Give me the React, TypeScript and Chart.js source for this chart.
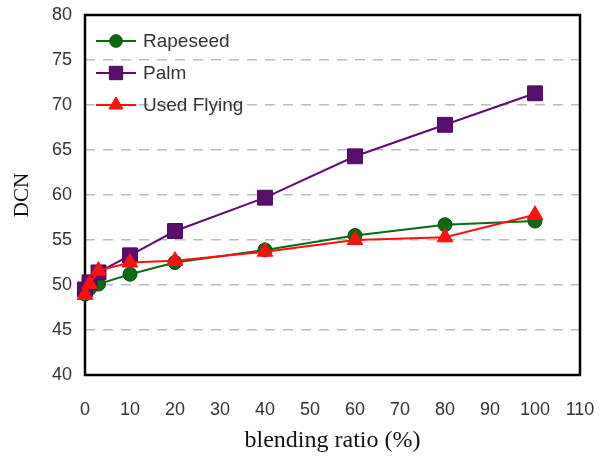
import React, { useEffect, useRef } from "react";
import { Chart, registerables } from "chart.js";

Chart.register(...registerables);

const blendingRatio = [0, 1, 3, 10, 20, 40, 60, 80, 100];
const rapeseedDCN = [49.0, 49.6, 50.1, 51.2, 52.5, 53.9, 55.5, 56.7, 57.1];
const palmDCN = [49.5, 50.3, 51.4, 53.3, 56.0, 59.7, 64.3, 67.8, 71.3];
const usedFlyingDCN = [48.9, 50.1, 51.6, 52.5, 52.7, 53.7, 55.0, 55.3, 57.8];
const seriesNames = ["Rapeseed", "Palm", "Used Flying"];
const xTickValues = [0, 10, 20, 30, 40, 50, 60, 70, 80, 90, 100, 110];
const yTickValues = [40, 45, 50, 55, 60, 65, 70, 75, 80];

const GREEN = "#0b6b12";
const PURPLE = "#5a0e6e";
const RED = "#ff1010";

const frameAndLegend = {
  id: "frameAndLegend",
  beforeDatasetsDraw(chart: any) {
    const { ctx, chartArea } = chart;
    ctx.save();
    ctx.strokeStyle = "#000";
    ctx.lineWidth = 2.5;
    ctx.strokeRect(chartArea.left, chartArea.top, chartArea.right - chartArea.left, chartArea.bottom - chartArea.top);
    ctx.restore();
  },
  afterDraw(chart: any) {
    const { ctx } = chart;
    const rows = [41, 73, 105];
    ctx.save();
    chart.data.datasets.forEach((ds: any, i: number) => {
      const y = rows[i];
      ctx.strokeStyle = ds.borderColor;
      ctx.lineWidth = 2;
      ctx.beginPath();
      ctx.moveTo(96, y);
      ctx.lineTo(136, y);
      ctx.stroke();
      ctx.fillStyle = ds.pointBackgroundColor;
      ctx.strokeStyle = ds.pointBorderColor;
      ctx.lineWidth = 1;
      const r = ds.pointRadius * 0.9;
      ctx.beginPath();
      if (ds.pointStyle === "circle") {
        ctx.arc(116, y, r, 0, Math.PI * 2);
      } else if (ds.pointStyle === "rect") {
        const s = Math.SQRT1_2 * r;
        ctx.rect(116 - s, y - s, 2 * s, 2 * s);
      } else {
        ctx.moveTo(116, y - r);
        ctx.lineTo(116 + r * 0.866, y + r / 2);
        ctx.lineTo(116 - r * 0.866, y + r / 2);
        ctx.closePath();
      }
      ctx.fill();
      ctx.stroke();
      ctx.fillStyle = "#333";
      ctx.font = "19px 'Liberation Sans', Arial, sans-serif";
      ctx.textBaseline = "middle";
      ctx.textAlign = "left";
      ctx.fillText(seriesNames[i], 143, y + 1);
    });
    ctx.restore();
  },
};

export default function App() {
  const ref = useRef<HTMLCanvasElement>(null);
  useEffect(() => {
    document.body.style.margin = "0";
    const makeData = (vals: number[]) => blendingRatio.map((x, i) => ({ x, y: vals[i] }));
    const chart = new Chart(ref.current!, {
      type: "line",
      data: {
        datasets: [
          {
            label: seriesNames[0],
            data: makeData(rapeseedDCN),
            borderColor: GREEN,
            backgroundColor: GREEN,
            pointBackgroundColor: GREEN,
            pointBorderColor: "#0a4a0a",
            pointStyle: "circle",
            pointRadius: 7,
            pointBorderWidth: 1,
            borderWidth: 2,
            order: 3,
          },
          {
            label: seriesNames[1],
            data: makeData(palmDCN),
            borderColor: PURPLE,
            backgroundColor: PURPLE,
            pointBackgroundColor: PURPLE,
            pointBorderColor: "#4a0a5a",
            pointStyle: "rect",
            pointRadius: 10.5,
            pointBorderWidth: 1,
            borderWidth: 2,
            order: 2,
          },
          {
            label: seriesNames[2],
            data: makeData(usedFlyingDCN),
            borderColor: RED,
            backgroundColor: RED,
            pointBackgroundColor: RED,
            pointBorderColor: RED,
            pointStyle: "triangle",
            pointRadius: 9,
            pointBorderWidth: 1,
            borderWidth: 2,
            order: 1,
          },
        ] as any,
      },
      options: {
        animation: false,
        responsive: false,
        clip: false as any,
        layout: { padding: { top: 15, right: 32, left: 0, bottom: 0 } },
        plugins: { legend: { display: false }, tooltip: { enabled: false } },
        scales: {
          x: {
            type: "linear",
            min: 0,
            max: 110,
            afterFit: (s: any) => {
              s.height = 86;
              s.paddingLeft = 0;
              s.paddingRight = 0;
            },
            afterBuildTicks: (s: any) => { s.ticks = xTickValues.map((v) => ({ value: v })); },
            grid: { display: false, drawTicks: false },
            border: { display: false },
            ticks: {
              padding: 24,
              color: "#333",
              font: { family: "'Liberation Sans', Arial, sans-serif", size: 18 },
              maxRotation: 0,
              autoSkip: false,
            },
            title: {
              display: true,
              text: "blending ratio (%)",
              color: "#111",
              font: { family: "'Liberation Serif', 'Times New Roman', serif", size: 24 },
              padding: { top: 6, bottom: 6 },
            },
          },
          y: {
            type: "linear",
            min: 40,
            max: 80,
            afterFit: (s: any) => {
              s.width = 85;
              s.paddingTop = 0;
              s.paddingBottom = 0;
            },
            afterBuildTicks: (s: any) => { s.ticks = yTickValues.map((v) => ({ value: v })); },
            grid: {
              drawTicks: false,
              color: (c: any) => (c.tick && (c.tick.value === 40 || c.tick.value === 80) ? "rgba(0,0,0,0)" : "#bdbdbd"),
              lineWidth: 1.5,
            },
            border: { display: false, dash: [10, 8] },
            ticks: {
              padding: 13,
              color: "#333",
              font: { family: "'Liberation Sans', Arial, sans-serif", size: 18 },
              autoSkip: false,
            },
            title: {
              display: true,
              text: "DCN",
              color: "#111",
              font: { family: "'Liberation Serif', 'Times New Roman', serif", size: 21 },
              padding: { top: 10, bottom: 8 },
            },
          },
        },
      },
      plugins: [frameAndLegend],
    });
    return () => chart.destroy();
  }, []);
  return <canvas ref={ref} width={612} height={461} style={{ display: "block", width: 612, height: 461 }} />;
}
